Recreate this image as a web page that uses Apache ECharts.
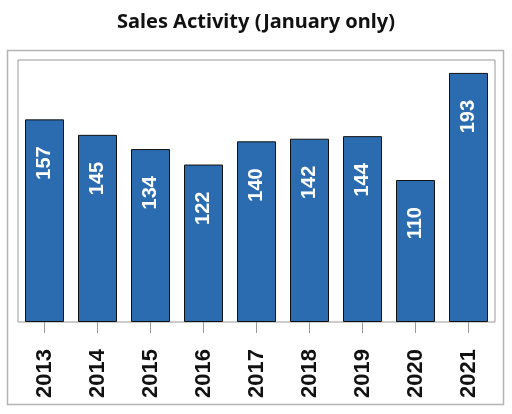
<!DOCTYPE html>
<html>
<head>
<meta charset="utf-8">
<script src="https://cdn.jsdelivr.net/npm/echarts@6/dist/echarts.min.js"></script>
<style>
  html, body { margin: 0; padding: 0; background: #fff; }
  #chart { width: 512px; height: 414px; }
</style>
</head>
<body>
<div id="chart"></div>
<script>
var years = ['2013', '2014', '2015', '2016', '2017', '2018', '2019', '2020', '2021'];
var sales = [157, 145, 134, 122, 140, 142, 144, 110, 193];

var myChart = echarts.init(document.getElementById('chart'));
var narrow = '"Liberation Sans Narrow", "Arial Narrow", "Liberation Sans", Arial, sans-serif';

var option = {
    animation: false,
    title: {
        text: 'Sales Activity (January only)',
        left: 'center',
        top: 7,
        textStyle: {
            fontFamily: '"Noto Sans", sans-serif',
            fontWeight: 'bold',
            fontSize: 20,
            color: '#111'
        }
    },
    graphic: [
        {
            type: 'rect',
            shape: { x: 7.5, y: 50.5, width: 496, height: 354 },
            style: { fill: 'none', stroke: '#b4b4b4', lineWidth: 1.5 },
            silent: true
        }
    ],
    grid: {
        left: 18,
        right: 17,
        top: 60,
        bottom: 92,
        show: true,
        borderColor: '#999',
        borderWidth: 1
    },
    xAxis: {
        type: 'category',
        data: years,
        axisLine: { show: false },
        axisTick: {
            show: true,
            alignWithLabel: true,
            length: 11,
            lineStyle: { color: '#999' }
        },
        axisLabel: {
            rotate: 90,
            margin: 27,
            fontFamily: narrow,
            fontWeight: 'bold',
            fontSize: 22,
            color: '#111'
        }
    },
    yAxis: {
        type: 'value',
        min: 0,
        max: 203,
        show: false,
        splitLine: { show: false }
    },
    series: [
        {
            type: 'bar',
            data: sales,
            barWidth: 39,
            itemStyle: {
                color: '#2b6cb0',
                borderColor: '#111',
                borderWidth: 1
            },
            label: {
                show: true,
                position: 'insideTop',
                distance: 27,
                rotate: 90,
                align: 'right',
                verticalAlign: 'middle',
                color: '#fff',
                fontFamily: narrow,
                fontWeight: 'bold',
                fontSize: 20
            }
        }
    ]
};

option && myChart.setOption(option);
</script>
</body>
</html>
